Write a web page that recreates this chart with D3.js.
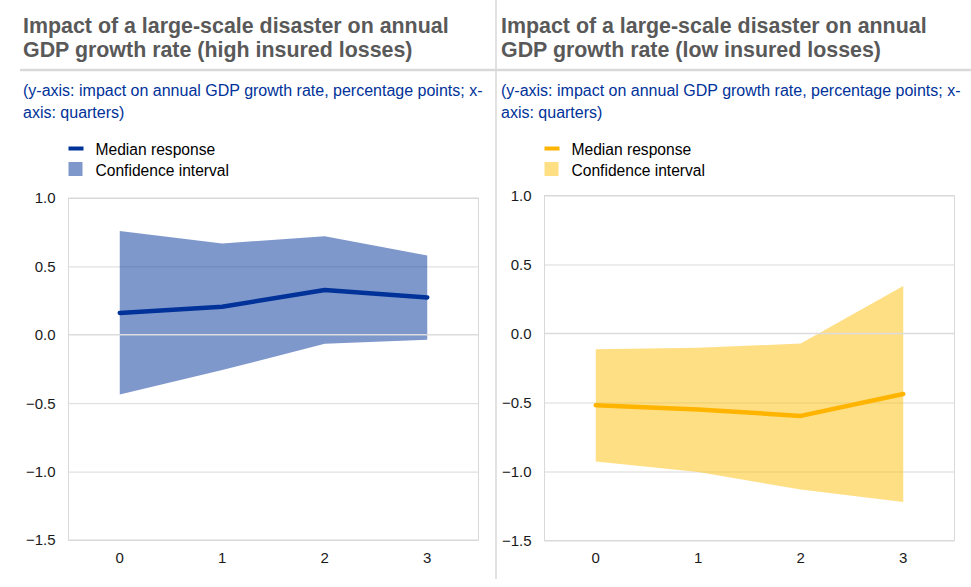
<!DOCTYPE html>
<html>
<head>
<meta charset="utf-8">
<script src="https://cdn.jsdelivr.net/npm/d3@7"></script>
<style>
  html, body { margin: 0; padding: 0; background: #fff; }
  svg { display: block; font-family: "Liberation Sans", Arial, sans-serif; }
</style>
</head>
<body>
<svg id="chart" width="971" height="587"></svg>
<script>
// Quarters after the disaster
const quarters = [0, 1, 2, 3];
const yTicks = [1.0, 0.5, 0.0, -0.5, -1.0, -1.5];

// High insured losses: median response and confidence band
const highMedian = [0.16, 0.205, 0.327, 0.273];
const highUpper  = [0.758, 0.668, 0.721, 0.580];
const highLower  = [-0.436, -0.258, -0.066, -0.037];

// Low insured losses: median response and confidence band
const lowMedian = [-0.52, -0.551, -0.597, -0.438];
const lowUpper  = [-0.114, -0.104, -0.073, 0.345];
const lowLower  = [-0.928, -1.003, -1.131, -1.221];

const titleLines = [
  ["Impact of a large-scale disaster on annual", "GDP growth rate (high insured losses)"],
  ["Impact of a large-scale disaster on annual", "GDP growth rate (low insured losses)"]
];
const subtitleLines = ["(y-axis: impact on annual GDP growth rate, percentage points; x-", "axis: quarters)"];
const legendLabels = ["Median response", "Confidence interval"];

const svg = d3.select("#chart");

// Panel frame lines
svg.append("line").attr("x1", 20).attr("x2", 971).attr("y1", 70).attr("y2", 70)
  .attr("stroke", "#d9d9d9").attr("stroke-width", 2.5);
svg.append("line").attr("x1", 496).attr("x2", 496).attr("y1", 0).attr("y2", 579)
  .attr("stroke", "#d9d9d9").attr("stroke-width", 1.5);

function drawPanel(opts) {
  const g = svg.append("g");
  const { textX, plotL, plotR, plotT, plotB, titles, median, upper, lower,
          lineColor, bandColor, bandOpacity } = opts;

  // Title
  titles.forEach((t, i) => {
    g.append("text").attr("x", textX).attr("y", 33 + i * 24)
      .attr("font-size", 21.4).attr("font-weight", "bold").attr("fill", "#595959").text(t);
  });
  // Subtitle
  subtitleLines.forEach((t, i) => {
    g.append("text").attr("x", textX).attr("y", 96 + i * 22)
      .attr("font-size", 16).attr("fill", "#003299").text(t);
  });
  // Legend
  const lx = plotL;
  g.append("rect").attr("x", lx).attr("y", 146.5).attr("width", 15).attr("height", 4).attr("fill", lineColor);
  g.append("rect").attr("x", lx).attr("y", 162).attr("width", 14).attr("height", 14)
    .attr("fill", bandColor).attr("fill-opacity", bandOpacity);
  legendLabels.forEach((t, i) => {
    g.append("text").attr("x", lx + 27).attr("y", 155 + i * 21)
      .attr("font-size", 15.6).attr("fill", "#000").text(t);
  });

  const x = d3.scaleBand().domain(quarters).range([plotL, plotR]);
  const y = d3.scaleLinear().domain([-1.5, 1.0]).range([plotB, plotT]);
  const cx = q => x(q) + x.bandwidth() / 2;

  // Plot frame
  g.append("rect").attr("x", plotL).attr("y", plotT).attr("width", plotR - plotL).attr("height", plotB - plotT)
    .attr("fill", "none").attr("stroke", "#d9d9d9").attr("stroke-width", 1);

  // Gridlines
  g.append("g").attr("transform", `translate(${plotL},0)`)
    .call(d3.axisLeft(y).tickValues(yTicks.filter(v => v !== 0)).tickSize(-(plotR - plotL)).tickFormat(""))
    .call(a => a.select(".domain").remove())
    .call(a => a.selectAll("line").attr("stroke", "#d9d9d9"));

  // Confidence band
  const rows = quarters.map((q, i) => ({ q, lo: lower[i], hi: upper[i], m: median[i] }));
  g.append("path").datum(rows)
    .attr("d", d3.area().x(d => cx(d.q)).y0(d => y(d.lo)).y1(d => y(d.hi)))
    .attr("fill", bandColor).attr("fill-opacity", bandOpacity);

  // Zero line on top of the band
  g.append("line").attr("x1", plotL).attr("x2", plotR).attr("y1", y(0)).attr("y2", y(0))
    .attr("stroke", "#dcdcdc").attr("stroke-width", 1.5);

  // Median response
  g.append("path").datum(rows)
    .attr("d", d3.line().x(d => cx(d.q)).y(d => y(d.m)))
    .attr("fill", "none").attr("stroke", lineColor).attr("stroke-width", 4.5)
    .attr("stroke-linecap", "round").attr("stroke-linejoin", "round");

  // Y axis labels
  g.append("g").attr("transform", `translate(${plotL},0)`)
    .call(d3.axisLeft(y).tickValues(yTicks).tickSize(0).tickPadding(13).tickFormat(d3.format(".1f")))
    .call(a => a.select(".domain").remove())
    .call(a => a.selectAll("text").attr("font-size", 15).attr("fill", "#1a1a1a")
      .attr("font-family", "Liberation Sans, Arial, sans-serif"));

  // X axis labels
  g.append("g").attr("transform", `translate(0,${plotB})`)
    .call(d3.axisBottom(x).tickSize(0).tickPadding(12))
    .call(a => a.select(".domain").remove())
    .call(a => a.selectAll("text").attr("font-size", 15).attr("fill", "#1a1a1a")
      .attr("font-family", "Liberation Sans, Arial, sans-serif"));
}

drawPanel({
  textX: 23, plotL: 68.5, plotR: 478.5, plotT: 198, plotB: 540,
  titles: titleLines[0], median: highMedian, upper: highUpper, lower: highLower,
  lineColor: "#003299", bandColor: "#003299", bandOpacity: 0.5
});
drawPanel({
  textX: 501, plotL: 544.5, plotR: 954.5, plotT: 195.5, plotB: 540.5,
  titles: titleLines[1], median: lowMedian, upper: lowUpper, lower: lowLower,
  lineColor: "#ffb400", bandColor: "#ffbf0a", bandOpacity: 0.5
});
</script>
</body>
</html>
